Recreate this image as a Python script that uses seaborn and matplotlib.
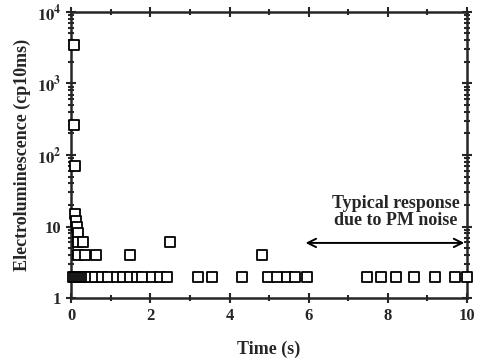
import numpy as np
import pandas as pd
import seaborn as sns
import matplotlib.pyplot as plt
from matplotlib.ticker import FixedLocator, FixedFormatter, LogLocator, MultipleLocator

# Data
time_s = [0.08, 0.08, 0.10, 0.10, 0.13, 0.15, 0.18, 0.18, 0.30,
          0.18, 0.35, 0.63, 1.48, 2.50, 4.83,
          0.05, 0.10, 0.15, 0.20, 0.25, 0.30, 0.35, 0.40, 0.45, 0.50,
          0.60, 0.78, 0.92, 1.15, 1.32, 1.48, 1.65, 1.80,
          2.05, 2.25, 2.42, 3.20, 3.55, 4.32, 4.97, 5.20, 5.45, 5.65, 5.95,
          7.47, 7.82, 8.20, 8.65, 9.20, 9.70, 10.00]
counts = [3500, 260, 70, 15, 12, 10, 8, 6, 6,
          4, 4, 4, 4, 6, 4,
          2, 2, 2, 2, 2, 2, 2, 2, 2, 2,
          2, 2, 2, 2, 2, 2, 2, 2,
          2, 2, 2, 2, 2, 2, 2, 2, 2, 2, 2,
          2, 2, 2, 2, 2, 2, 2]

x_ticks = [0, 2, 4, 6, 8, 10]
y_ticks = [1, 10, 100, 1000, 10000]
y_labels = ["1", "10", r"$\mathbf{10^{2}}$", r"$\mathbf{10^{3}}$", r"$\mathbf{10^{4}}$"]

df = pd.DataFrame({"time": time_s, "counts": counts})

sns.set_style("ticks")
plt.rcParams["font.family"] = ["Liberation Serif", "DejaVu Serif"]
plt.rcParams["mathtext.fontset"] = "stix"
plt.rcParams["font.weight"] = "bold"

fig = plt.figure(figsize=(4.81, 3.6), dpi=100)
ax = fig.add_axes([0.148, 0.172, 0.823, 0.795])

sns.scatterplot(data=df, x="time", y="counts", marker="s", s=42,
                color="white", edgecolor="black", linewidth=1.3, ax=ax,
                zorder=3, clip_on=False)

ax.set_yscale("log")
ax.set_xlim(0, 10)
ax.set_ylim(1, 10000)

ax.xaxis.set_major_locator(FixedLocator(x_ticks))
ax.xaxis.set_minor_locator(MultipleLocator(1))
ax.yaxis.set_major_locator(FixedLocator(y_ticks))
ax.yaxis.set_major_formatter(FixedFormatter(y_labels))
ax.yaxis.set_minor_locator(LogLocator(base=10, subs=np.arange(2, 10)))

for side in ax.spines.values():
    side.set_linewidth(1.8)
ax.tick_params(which="both", direction="inout", top=True, right=True, width=1.5)
ax.tick_params(which="major", length=7, labelsize=12)
ax.tick_params(which="minor", length=4)
for lab in ax.get_xticklabels() + ax.get_yticklabels():
    lab.set_fontweight("bold")

ax.set_xlabel("Time (s)", fontsize=13, fontweight="bold", labelpad=12)
ax.set_ylabel("Electroluminescence (cp10ms)", fontsize=13, fontweight="bold", labelpad=4)

ax.annotate("", xy=(10, 5.9), xytext=(5.85, 5.9),
            arrowprops=dict(arrowstyle="<->", lw=1.4, color="black", mutation_scale=15))
ax.text(8.2, 16, "Typical response\ndue to PM noise", ha="center", va="center",
        fontsize=13, fontweight="bold", linespacing=0.95)

fig.savefig("out.png", dpi=100)
